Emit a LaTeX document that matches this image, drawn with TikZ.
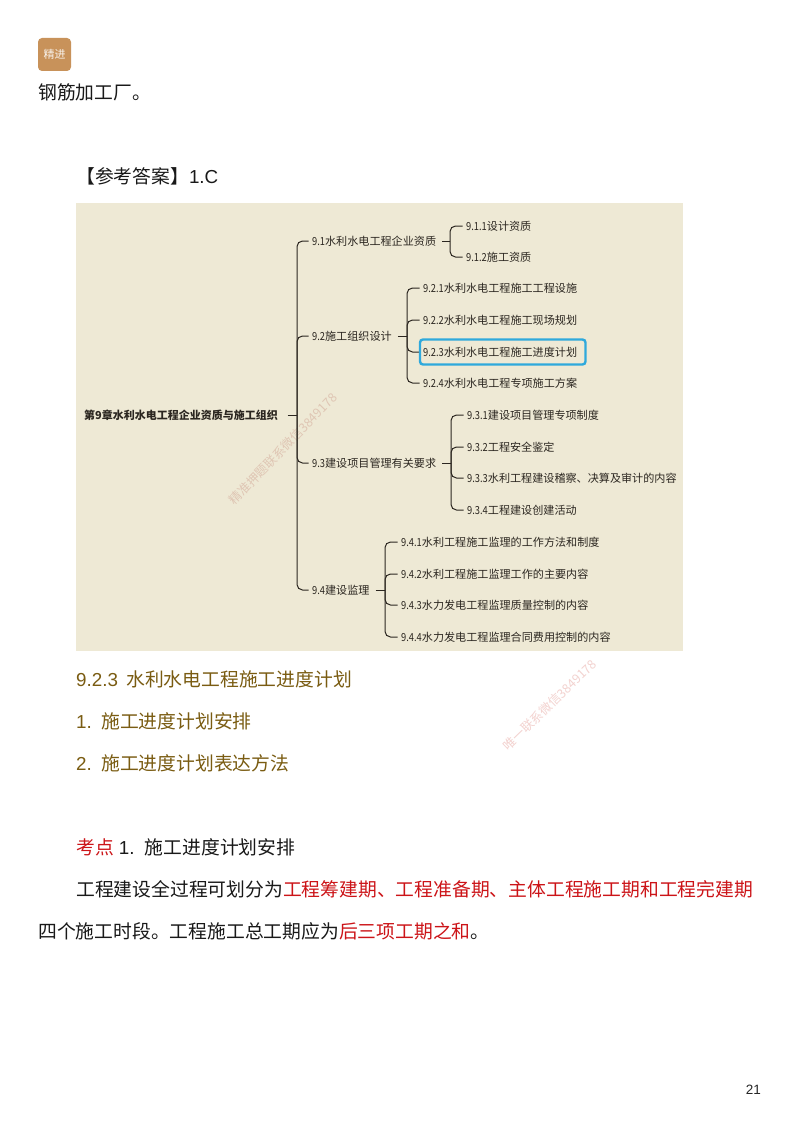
\documentclass[tikz,border=0pt]{standalone}
\usepackage{fontspec}
\setmainfont{Liberation Sans}
\newfontfamily\cjk{Noto Sans CJK SC}
\newcommand{\la}[1]{{\rmfamily #1}}
\newcommand{\dg}[1]{\scalebox{.84}[1]{#1}}
\definecolor{panel}{HTML}{EEE9D5}
\definecolor{ink}{HTML}{2B2620}
\definecolor{olive}{HTML}{7A5C12}
\definecolor{redtxt}{HTML}{CC1418}
\definecolor{hl}{HTML}{2FA9DC}
\definecolor{badge}{HTML}{C8925A}
\definecolor{wma}{HTML}{DFC6B4}
\definecolor{wmb}{HTML}{F3D2CF}
\tikzset{
  body/.style={anchor=west,inner sep=0pt,font=\fontsize{18.8}{19}\selectfont\cjk,text=black!90},
  head/.style={body,text=olive},
  mm/.style={anchor=west,inner sep=3.5pt,font=\fontsize{11.1}{11}\selectfont\cjk,text=ink},
  conn/.style={draw=ink,line width=1pt,rounded corners=5.5pt},
  wmk/.style={font=\fontsize{12.5}{13}\selectfont\cjk,inner sep=0pt}
}
\begin{document}
\begin{tikzpicture}[x=1pt,y=-1pt]
\useasboundingbox (0,0) rectangle (800,1132);
\fill[white] (0,0) rectangle (800,1132);
% badge
\node[draw=none,fill=badge,rounded corners=4pt,minimum width=33pt,minimum height=33pt,inner sep=0pt,text=white!90!badge,font=\fontsize{11}{11}\selectfont\cjk] (badge) at (54.5,54.5) {精进};
\node[body] (t1) at (38,92) {钢筋加工厂。};
\node[body] (t2) at (76,176) {【参考答案】\la{1.C}};
% panel
\fill[panel] (76,203) rectangle (683,651);
\node[wmk,rotate=46,text=wma] (w1) at (283,449) {精准押题联系微信3849178};
% mind map
\node[mm,font=\fontsize{11}{11}\selectfont\cjk\bfseries] (root) at (80.5,415) {第9章水利水电工程企业资质与施工组织};
\node[mm] (n91) at (308.5,241) {\dg{9.1}水利水电工程企业资质};
\node[mm] (n92) at (308.5,336) {\dg{9.2}施工组织设计};
\node[mm] (n93) at (308.5,463) {\dg{9.3}建设项目管理有关要求};
\node[mm] (n94) at (308.5,590) {\dg{9.4}建设监理};
\node[mm] (n911) at (462.5,226) {\dg{9.1.1}设计资质};
\node[mm] (n912) at (462.5,257) {\dg{9.1.2}施工资质};
\node[mm] (n921) at (419.5,288) {\dg{9.2.1}水利水电工程施工工程设施};
\node[mm] (n922) at (419.5,320) {\dg{9.2.2}水利水电工程施工现场规划};
\node[mm] (n923) at (419.5,352) {\dg{9.2.3}水利水电工程施工进度计划};
\node[mm] (n924) at (419.5,383) {\dg{9.2.4}水利水电工程专项施工方案};
\node[mm] (n931) at (463.5,415) {\dg{9.3.1}建设项目管理专项制度};
\node[mm] (n932) at (463.5,447) {\dg{9.3.2}工程安全鉴定};
\node[mm] (n933) at (463.5,478) {\dg{9.3.3}水利工程建设稽察、决算及审计的内容};
\node[mm] (n934) at (463.5,510) {\dg{9.3.4}工程建设创建活动};
\node[mm] (n941) at (397.5,542) {\dg{9.4.1}水利工程施工监理的工作方法和制度};
\node[mm] (n942) at (397.5,574) {\dg{9.4.2}水利工程施工监理工作的主要内容};
\node[mm] (n943) at (397.5,605) {\dg{9.4.3}水力发电工程监理质量控制的内容};
\node[mm] (n944) at (397.5,637) {\dg{9.4.4}水力发电工程监理合同费用控制的内容};
\coordinate (j0) at (297,415);
\coordinate (j1) at (450,241);
\coordinate (j2) at (407,336);
\coordinate (j3) at (451,463);
\coordinate (j4) at (385,590);
\draw[conn] ([xshift=6pt]root.east) -- (j0);
\foreach \c in {n91,n92,n93,n94}{\draw[conn] (j0) |- (\c.west);}
\draw[conn] ([xshift=2.5pt]n91.east) -- (j1);
\foreach \c in {n911,n912}{\draw[conn] (j1) |- (\c.west);}
\draw[conn] ([xshift=2.5pt]n92.east) -- (j2);
\foreach \c in {n921,n922,n923,n924}{\draw[conn] (j2) |- (\c.west);}
\draw[conn] ([xshift=2.5pt]n93.east) -- (j3);
\foreach \c in {n931,n932,n933,n934}{\draw[conn] (j3) |- (\c.west);}
\draw[conn] ([xshift=2.5pt]n94.east) -- (j4);
\foreach \c in {n941,n942,n943,n944}{\draw[conn] (j4) |- (\c.west);}
\draw[hl,line width=2.4pt,rounded corners=3pt] (420,339.5) rectangle (585.5,364.5);
% lower text
\node[wmk,rotate=44,text=wmb] (w2) at (550,705) {唯一联系微信3849178};
\node[head] (h1) at (76,679) {\makebox[50pt][l]{\la{9.2.3}}水利水电工程施工进度计划};
\node[head] (h2) at (76,721) {\makebox[25pt][l]{\la{1.}}施工进度计划安排};
\node[head] (h3) at (76,763) {\makebox[25pt][l]{\la{2.}}施工进度计划表达方法};
\node[body] (p0) at (76,847) {\textcolor{redtxt}{考点}\hspace{5pt}\makebox[26pt][l]{\la{1.}}施工进度计划安排};
\node[body] (p1) at (76,889) {工程建设全过程可划分为\textcolor{redtxt}{工程筹建期、工程准备期、主体工程施工期和工程完建期}};
\node[body] (p2) at (38,931) {四个施工时段。工程施工总工期应为\textcolor{redtxt}{后三项工期之和}。};
\node[anchor=east,inner sep=0pt,font=\fontsize{13.5}{14}\selectfont,text=black!85] (pg) at (761,1090) {21};
\end{tikzpicture}
\end{document}
